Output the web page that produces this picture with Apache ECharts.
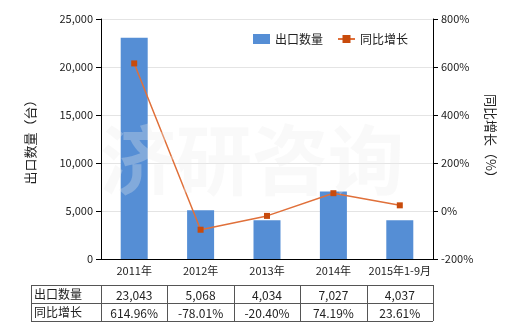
<!DOCTYPE html>
<html><head><meta charset="utf-8">
<script src="https://cdn.jsdelivr.net/npm/echarts@6/dist/echarts.min.js"></script>
<style>html,body{margin:0;padding:0;background:#fff}#c{width:520px;height:330px}</style>
</head><body><div id="c"></div>
<script>
const categories = ['2011年','2012年','2013年','2014年','2015年1-9月'];
const exportQty = [23043, 5068, 4034, 7027, 4037];
const yoyGrowth = [614.96, -78.01, -20.40, 74.19, 23.61];
const qtyLabels = ['23,043','5,068','4,034','7,027','4,037'];
const yoyLabels = ['614.96%','-78.01%','-20.40%','74.19%','23.61%'];
const seriesNames = ['出口数量','同比增长'];

const FONT = '"Noto Sans CJK SC", sans-serif';
const chart = echarts.init(document.getElementById('c'), null, {renderer:'canvas'});
const option = {
  animation:false,
  textStyle:{fontFamily:FONT},
  grid:{left:101, right:87, top:19, bottom:71},
  legend:{
    left:248, top:28, itemWidth:17, itemHeight:10, itemGap:14,
    textStyle:{fontSize:12, color:'#222', fontFamily:FONT},
    data:[{name:seriesNames[0], icon:'rect'}, {name:seriesNames[1]}]
  },
  xAxis:{
    type:'category', data:categories,
    axisLine:{lineStyle:{color:'#000'}},
    axisTick:{alignWithLabel:true, lineStyle:{color:'#000'}},
    axisLabel:{color:'#222', fontSize:11, margin:6, interval:0}
  },
  yAxis:[{
    type:'value', min:0, max:25000, interval:5000,
    name:'出口数量（台）', nameLocation:'middle', nameRotate:90, nameGap:64,
    nameTextStyle:{fontSize:13, color:'#222'},
    axisLine:{show:true, lineStyle:{color:'#000'}},
    axisTick:{show:true, lineStyle:{color:'#000'}},
    axisLabel:{color:'#222', fontSize:11, formatter:v=>v.toLocaleString('en-US')},
    splitLine:{lineStyle:{color:'#e4e4e4'}}
  },{
    type:'value', min:-200, max:800, interval:200,
    name:'同比增长（%）', nameLocation:'middle', nameRotate:-90, nameGap:50,
    nameTextStyle:{fontSize:13, color:'#222'},
    axisLine:{show:true, lineStyle:{color:'#000'}},
    axisTick:{show:true, lineStyle:{color:'#000'}},
    axisLabel:{color:'#222', fontSize:11, formatter:'{value}%'},
    splitLine:{show:false}
  }],
  series:[{
    name:seriesNames[0], type:'bar', data:exportQty, barWidth:27,
    itemStyle:{color:'#558ed5'}
  },{
    name:seriesNames[1], type:'line', yAxisIndex:1, data:yoyGrowth,
    symbol:'rect', symbolSize:6,
    lineStyle:{color:'#e0703a', width:1.5},
    itemStyle:{color:'#c84b0c'}
  }]
};
chart.setOption(option);

// watermark and table
const g = [];
g.push({type:'text', left:100, top:122, z:10, silent:true,
  style:{text:'济研咨询', font:'bold 76px '+FONT, fill:'rgba(235,235,235,0.3)', letterSpacing:20}});
const xs = categories.map(c => chart.convertToPixel({xAxisIndex:0}, c));
const plotL = 101, plotR = 433;
const bounds = [31, plotL];
for (let i=0;i<xs.length-1;i++) bounds.push((xs[i]+xs[i+1])/2);
bounds.push(plotR);
const rowY = [285, 303, 321];
const lineStyle = {stroke:'#555', lineWidth:1};
rowY.forEach(y => g.push({type:'line', shape:{x1:31,y1:y+0.5,x2:plotR,y2:y+0.5}, style:lineStyle}));
bounds.forEach(x => g.push({type:'line', shape:{x1:Math.round(x)+0.5,y1:rowY[0],x2:Math.round(x)+0.5,y2:rowY[2]}, style:lineStyle}));
const rows = [[seriesNames[0], qtyLabels],[seriesNames[1], yoyLabels]];
rows.forEach((r, ri) => {
  const cy = (rowY[ri]+rowY[ri+1])/2;
  g.push({type:'text', x:34, y:cy, style:{text:r[0], font:'12px '+FONT, fill:'#222', verticalAlign:'middle', textAlign:'left'}});
  r[1].forEach((t, i) => g.push({type:'text', x:xs[i], y:cy+1, style:{text:t, font:'12px '+FONT, fill:'#222', verticalAlign:'middle', textAlign:'center'}}));
});
chart.setOption({graphic:g});
</script></body></html>
